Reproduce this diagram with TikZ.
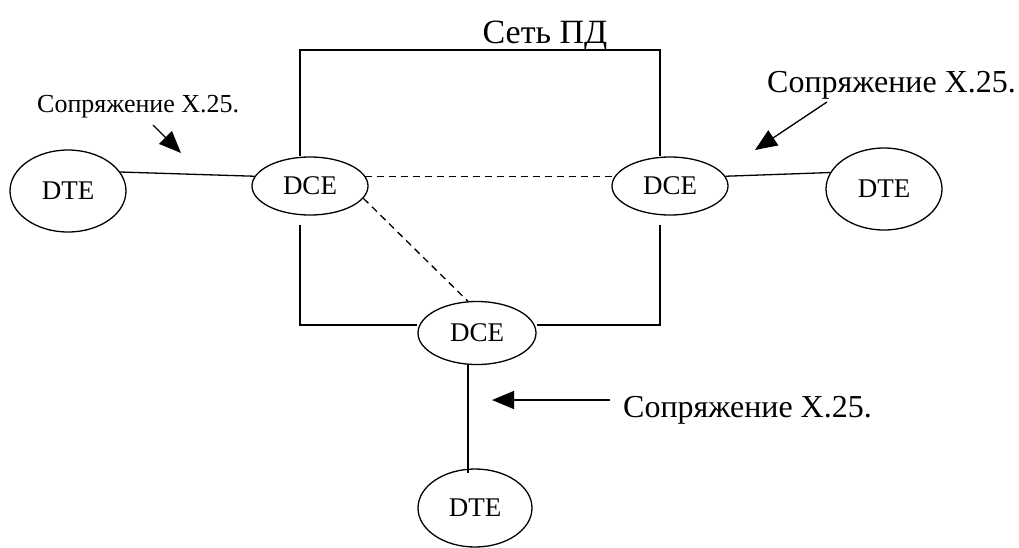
\documentclass[tikz,border=0pt]{standalone}
\usepackage{fontspec}
\setmainfont{Liberation Serif}
\usetikzlibrary{shapes.geometric,arrows.meta}
\tikzset{
  unit/.style={draw, ellipse, line width=1.3pt, inner sep=0pt, font=\fontsize{27}{30}\selectfont},
  link/.style={line width=1.3pt},
  dashlink/.style={line width=1.3pt, dash pattern=on 7pt off 5pt},
  ptr/.style={line width=1.3pt, -{Triangle[length=22pt,width=18pt]}},
  biglbl/.style={inner sep=0pt, anchor=base west, font=\fontsize{32}{36}\selectfont},
  smalllbl/.style={inner sep=0pt, anchor=base west, font=\fontsize{26}{30}\selectfont}
}
\begin{document}
\begin{tikzpicture}[x=1pt,y=-1pt]
\useasboundingbox (0,0) rectangle (1019,547);
% nodes
\node[unit, minimum width=116pt, minimum height=82pt] (dteL) at (68,191) {DTE};
\node[unit, minimum width=116pt, minimum height=58pt] (dceL) at (310,186) {DCE};
\node[unit, minimum width=116pt, minimum height=58pt] (dceR) at (670,186) {DCE};
\node[unit, minimum width=116pt, minimum height=82pt] (dteR) at (884,189) {DTE};
\node[unit, minimum width=118pt, minimum height=63pt] (dceB) at (477,333) {DCE};
\node[unit, minimum width=114pt, minimum height=78pt] (dteB) at (475,508) {DTE};
% frame coordinates
\coordinate (tl) at (300,50);
\coordinate (tr) at (660,50);
\coordinate (bl) at (300,325);
\coordinate (br) at (660,325);
\coordinate (lgap) at (300,225);
\coordinate (rgap) at (660,225);
\coordinate (vx) at (468,0);
% network frame
\draw[link] (dceL.north -| tl) -- (tl) -- (tr) -- (dceR.north -| tr);
\draw[link] (lgap) -- (bl) -- (dceB.west |- bl);
\draw[link] (dceB.east |- br) -- (br) -- (rgap);
% connections
\draw[link] (dteL.20) -- (dceL.170);
\draw[link] (dceR.10) -- (dteR.163);
\draw[link] (dceB.south -| vx) -- ([yshift=-5pt]dteB.north -| vx);
\draw[dashlink] (dceL.10) -- (dceR.170);
\draw[dashlink] (dceL.-13) -- (dceB.106);
% labels
\node[inner sep=0pt, anchor=base, font=\fontsize{34}{38}\selectfont] (title) at (545,43) {Сеть ПД};
\node[smalllbl] (lblL) at (37,112) {Сопряжение X.25.};
\node[biglbl] (lblR) at (767,92) {Сопряжение X.25.};
\node[biglbl] (lblB) at (623,417) {Сопряжение X.25.};
% pointer arrows
\coordinate (a1s) at (153,125);
\coordinate (a1e) at (181,153);
\coordinate (a2s) at (827,102);
\coordinate (a2e) at (755,150);
\coordinate (a3s) at (610,400);
\coordinate (a3e) at (492,400);
\draw[ptr] (a1s) -- (a1e);
\draw[ptr] (a2s) -- (a2e);
\draw[ptr] (a3s) -- (a3e);
\end{tikzpicture}
\end{document}
